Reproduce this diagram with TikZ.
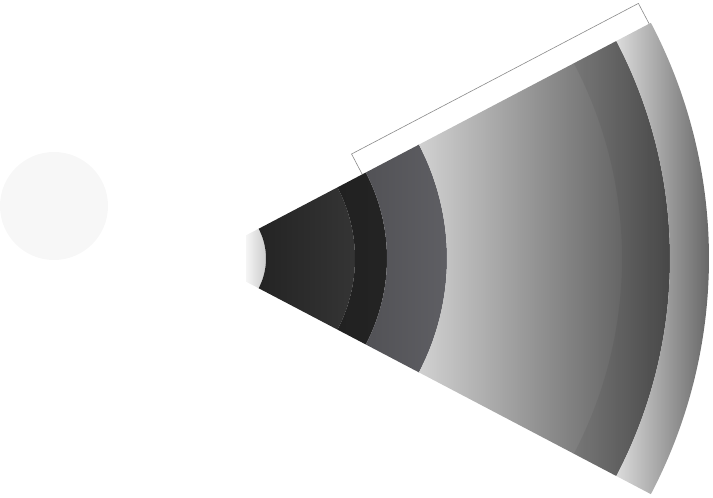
\documentclass[tikz,border=0pt]{standalone}
\usepackage{tikz}
\usetikzlibrary{calc}
\definecolor{circlegray}{HTML}{F7F7F7}
\definecolor{bracketgray}{HTML}{8A8A8A}
\definecolor{bandthreeL}{HTML}{525256}
\definecolor{bandthreeR}{HTML}{606065}
\tikzset{
  bracketline/.style={draw=bracketgray, line width=0.6pt, line join=miter},
}
\newcommand{\myband}[4]{%
  \path[shading=axis, left color=#3, right color=#4]
    ($(C)+(-27.7:#1pt)$) arc[start angle=-27.7, end angle=27.7, radius=#1pt]
    -- ($(C)+(27.7:#2pt)$) arc[start angle=27.7, end angle=-27.7, radius=#2pt]
    -- cycle;}
\begin{document}
\begin{tikzpicture}[x=1pt,y=1pt]
\useasboundingbox (0,0) rectangle (713,498);
\coordinate (C) at (202,239.5);
% faint disc
\fill[circlegray] (54,292) circle[radius=54pt];
% inner cap
\path[shading=axis, left color=white!96!black, right color=black!22]
  (246,262.7) -- ($(C)+(27.7:64pt)$) arc[start angle=27.7, end angle=-27.7, radius=64pt]
  -- (246,216.3) -- cycle;
% bands
\myband{64}{153}{black!86}{black!79}
\myband{153}{185}{black!87}{black!86}
\myband{185}{245}{bandthreeL}{bandthreeR}
\myband{245}{468}{black!18}{black!74}
% subtle inner arc in the wide band
\fill[black, opacity=0.06]
  ($(C)+(-27.7:420pt)$) arc[start angle=-27.7, end angle=27.7, radius=420pt]
  -- ($(C)+(27.7:468pt)$) arc[start angle=27.7, end angle=-27.7, radius=468pt]
  -- cycle;
\myband{468}{507}{black!14}{black!69}
% bracket
\coordinate (b1) at ($(C)+(27.7:181pt)$);
\coordinate (b2) at ($(C)+(27.7:505pt)$);
\coordinate (b1o) at ($(b1)+(117.7:23pt)$);
\coordinate (b2o) at ($(b2)+(117.7:23pt)$);
\draw[bracketline] (b1) -- (b1o) -- (b2o) -- (b2);
\end{tikzpicture}
\end{document}
